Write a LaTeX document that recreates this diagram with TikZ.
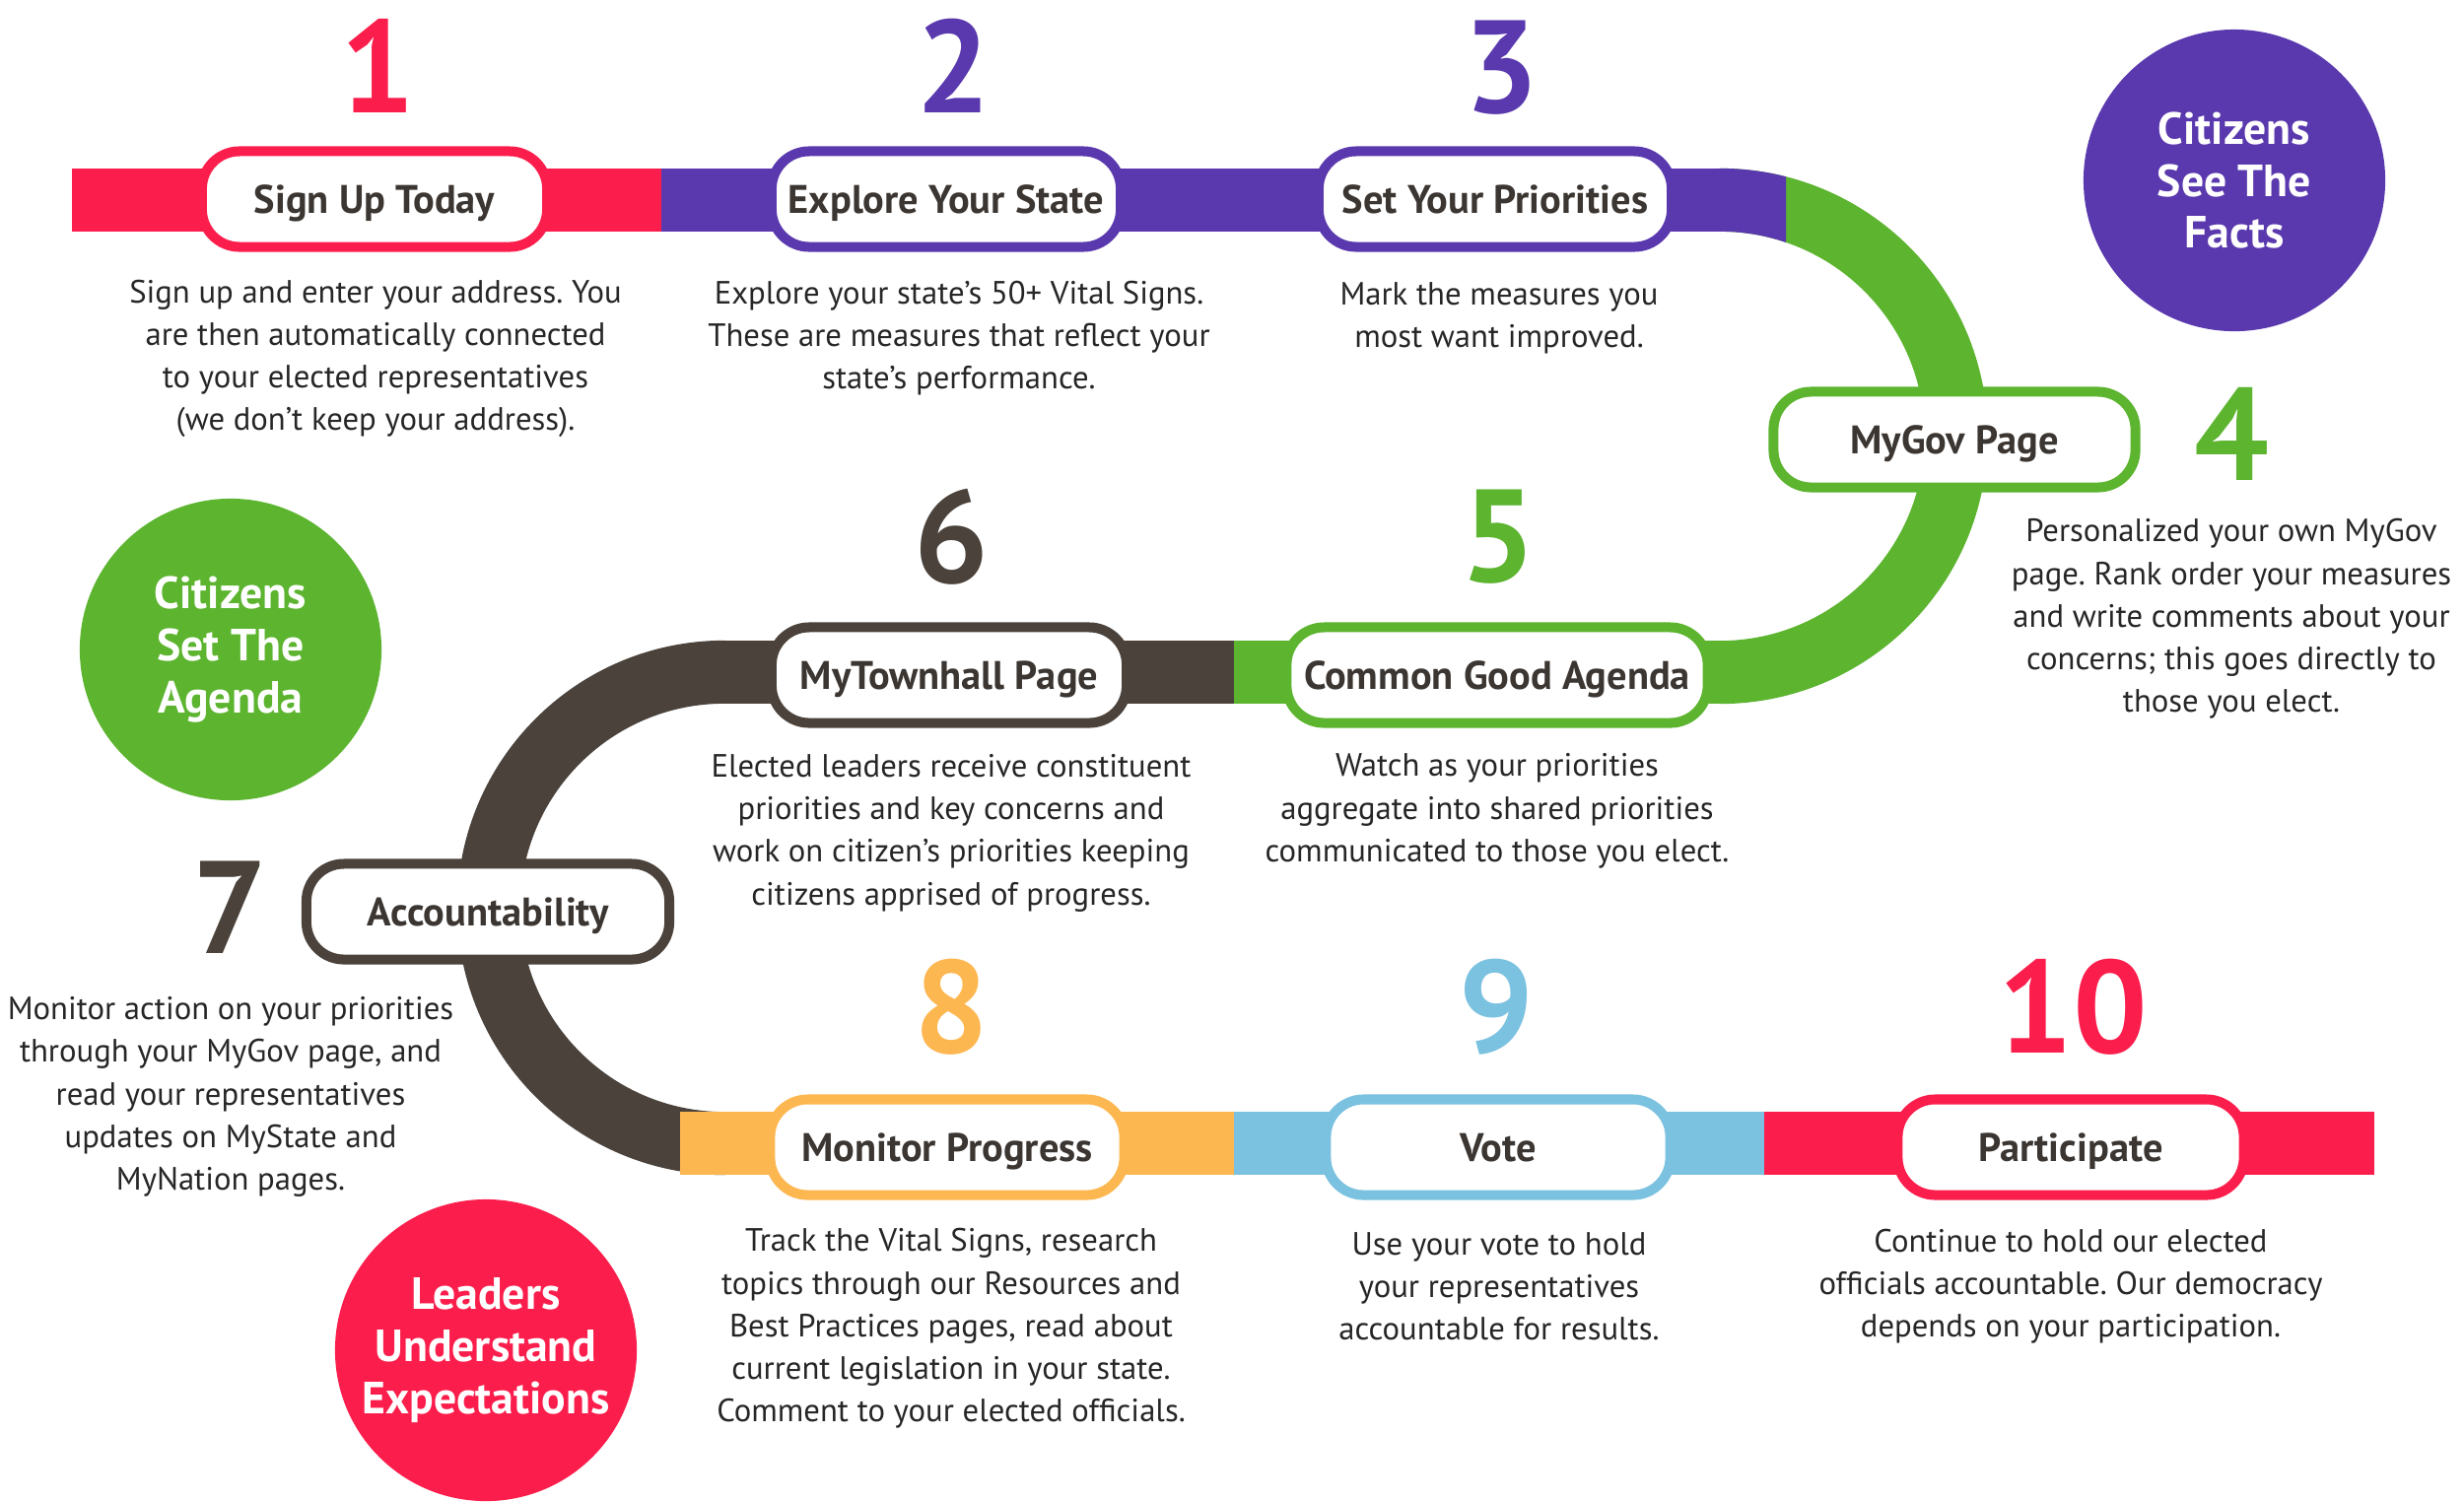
\documentclass[tikz,border=0pt]{standalone}
\usepackage{fontspec}
\setmainfont{PT Sans}
\frenchspacing
\definecolor{cred}{HTML}{FB1E4C}
\definecolor{cpurple}{HTML}{5A39AE}
\definecolor{cgreen}{HTML}{5CB42F}
\definecolor{cdark}{HTML}{4A423B}
\definecolor{corange}{HTML}{FDB751}
\definecolor{cblue}{HTML}{7BC1E0}
\definecolor{clabel}{HTML}{3B3632}
\definecolor{ctext}{HTML}{262626}
\begin{document}
\begin{tikzpicture}[x=0.01cm, y=-0.01cm,
  band/.style={line width=0.64cm, draw=#1},
  pill/.style={draw=#1, line width=0.1cm, fill=white, rounded corners=0.38cm,
    minimum height=0.97cm, inner sep=0pt, text=clabel,
    font=\fontsize{11.5}{13}\selectfont\bfseries, text height=8pt, text depth=0pt},
  num/.style={text=#1, inner sep=0pt, font=\fontsize{38}{40}\selectfont\bfseries},
  desc/.style={align=center, inner sep=0pt, text=ctext, font=\fontsize{9.3}{12.3}\selectfont},
  bubble/.style={circle, fill=#1, minimum size=3.06cm, inner sep=0pt, align=center,
    text=white, font=\fontsize{13}{15}\selectfont\bfseries}]
\fill[white] (0,0) rectangle (2500,1523);
\useasboundingbox (0,0) rectangle (2500,1523);

% track coordinates
\coordinate (tA) at (73,203);
\coordinate (tB) at (671,203);
\coordinate (tC) at (1746,203);
\coordinate (rc) at (1745,442.5);
\coordinate (mA) at (1746,682);
\coordinate (mB) at (1252,682);
\coordinate (mC) at (734,682);
\coordinate (lc) at (735,921);
\coordinate (bA) at (690,1160);
\coordinate (bB) at (1252,1160);
\coordinate (bC) at (1790,1160);
\coordinate (bD) at (2409,1160);

% track
\draw[band=cred] (tA) -- (tB);
\draw[band=cpurple] (tB) -- (tC);
\begin{scope}
  \clip (1745,100) rectangle (2100,800);
  \draw[band=cgreen] (rc) circle[radius=2.395cm];
\end{scope}
\begin{scope}
  \clip (1744,100) rectangle (1812,442);
  \draw[band=cpurple] (rc) circle[radius=2.395cm];
\end{scope}
\draw[band=cgreen] (mA) -- (mB);
\draw[band=cdark] (mB) -- (mC);
\begin{scope}
  \clip (400,600) rectangle (736,1250);
  \draw[band=cdark] (lc) circle[radius=2.39cm];
\end{scope}
\draw[band=corange] (bA) -- (bB);
\draw[band=cblue] (bB) -- (bC);
\draw[band=cred] (bC) -- (bD);

% boxes
\node[pill=cred, minimum width=3.5cm] (b1) at (380,202) {Sign Up Today};
\node[pill=cpurple, minimum width=3.54cm] (b2) at (960,202) {Explore Your State};
\node[pill=cpurple, minimum width=3.58cm] (b3) at (1517,202) {Set Your Priorities};
\node[pill=cgreen, minimum width=3.67cm] (b4) at (1983,446) {MyGov Page};
\node[pill=cgreen, minimum width=4.27cm] (b5) at (1519,685) {Common Good Agenda};
\node[pill=cdark, minimum width=3.6cm] (b6) at (963,685) {MyTownhall Page};
\node[pill=cdark, minimum width=3.68cm] (b7) at (495,925) {Accountability};
\node[pill=corange, minimum width=3.59cm] (b8) at (961,1164) {Monitor Progress};
\node[pill=cblue, minimum width=3.49cm] (b9) at (1520,1164) {Vote};
\node[pill=cred, minimum width=3.51cm] (b10) at (2101,1164) {Participate};

% numbers
\node[num=cred] (n1) at (383,67) {1};
\node[num=cpurple] (n2) at (967,67) {2};
\node[num=cpurple] (n3) at (1523,69) {3};
\node[num=cgreen] (n4) at (2264,440) {4};
\node[num=cgreen] (n5) at (1520,545) {5};
\node[num=cdark] (n6) at (965,545) {6};
\node[num=cdark] (n7) at (233,921) {7};
\node[num=corange] (n8) at (965,1022) {8};
\node[num=cblue] (n9) at (1518,1022) {9};
\node[num=cred] (n10) at (2103,1022) {10};

% descriptions
\node[desc] (d1) at (381,364) {Sign up and enter your address. You\\are then automatically connected\\to your elected representatives\\(we don’t keep your address).};
\node[desc] (d2) at (973,343) {Explore your state’s 50+ Vital Signs.\\These are measures that reflect your\\state’s performance.};
\node[desc] (d3) at (1521,323) {Mark the measures you\\most want improved.};
\node[desc] (d4) at (2264,628) {Personalized your own MyGov\\page. Rank order your measures\\and write comments about your\\concerns; this goes directly to\\those you elect.};
\node[desc] (d5) at (1519,823) {Watch as your priorities\\aggregate into shared priorities\\communicated to those you elect.};
\node[desc] (d6) at (965,845) {Elected leaders receive constituent\\priorities and key concerns and\\work on citizen’s priorities keeping\\citizens apprised of progress.};
\node[desc] (d7) at (234,1113) {Monitor action on your priorities\\through your MyGov page, and\\read your representatives\\updates on MyState and\\MyNation pages.};
\node[desc] (d8) at (965,1348) {Track the Vital Signs, research\\topics through our Resources and\\Best Practices pages, read about\\current legislation in your state.\\Comment to your elected officials.};
\node[desc] (d9) at (1521,1305) {Use your vote to hold\\your representatives\\accountable for results.};
\node[desc] (d10) at (2101,1305) {Continue to hold our elected\\officials accountable. Our democracy\\depends on your participation.};

% circles
\node[bubble=cpurple] (c1) at (2267,183) {Citizens\\See The\\Facts};
\node[bubble=cgreen] (c2) at (234,659) {Citizens\\Set The\\Agenda};
\node[bubble=cred] (c3) at (493,1370) {Leaders\\Understand\\Expectations};
\end{tikzpicture}
\end{document}
